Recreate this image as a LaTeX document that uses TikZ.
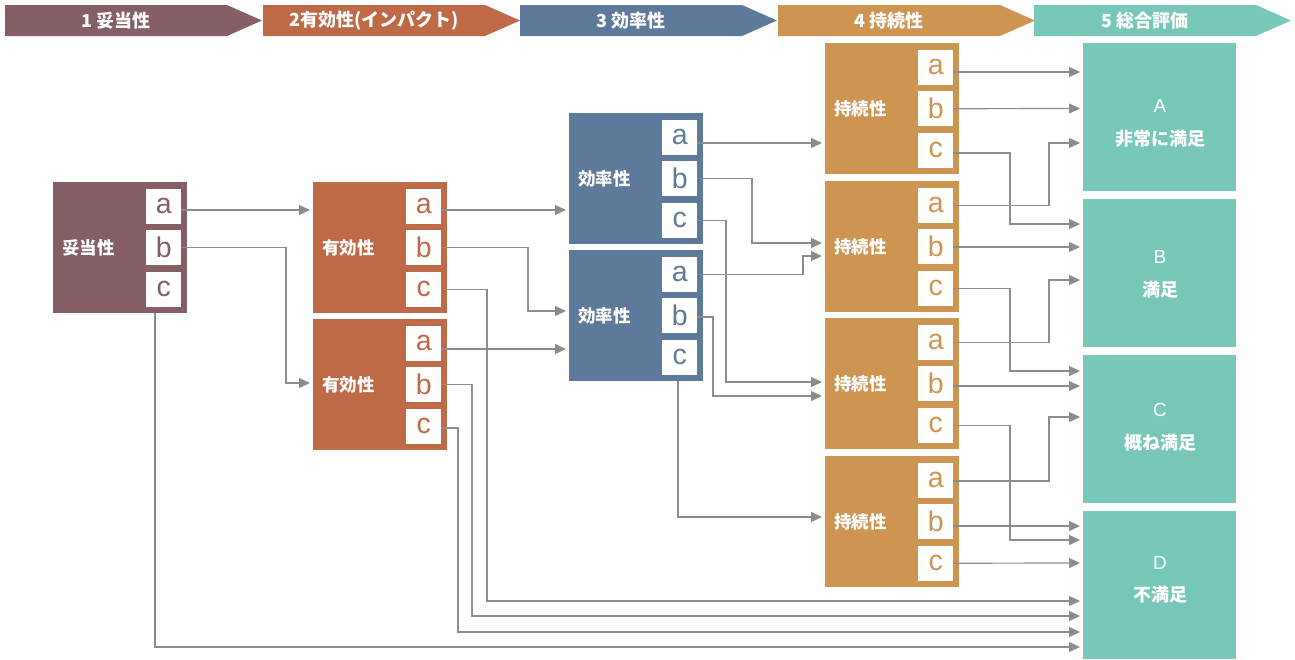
\documentclass[tikz,border=0pt]{standalone}
\usepackage{fontspec}
\setmainfont{Noto Sans CJK JP}
\newfontfamily\latf{Liberation Sans}
\usetikzlibrary{arrows.meta}
\definecolor{cS}{HTML}{855E66}
\definecolor{cE}{HTML}{BF6A47}
\definecolor{cF}{HTML}{5E7A9A}
\definecolor{cP}{HTML}{CD9452}
\definecolor{cT}{HTML}{77C8B9}
\definecolor{cL}{HTML}{8C8C8F}
\tikzset{
 box/.style={fill=#1, inner sep=0, minimum width=134pt, minimum height=131pt, anchor=north west},
 subbox/.style={fill=white, text=#1, inner sep=0, minimum width=35pt, minimum height=35pt, anchor=north east, font=\latf\fontsize{28.5}{29}\selectfont},
 lbl/.style={text=white, anchor=west, inner sep=0, font=\bfseries\fontsize{17.5}{18}\selectfont},
 tot/.style={fill=cT, inner sep=0, minimum width=153pt, minimum height=148pt, anchor=north west},
 conn/.style={draw=cL, line width=1.2pt, -{Triangle[length=11pt,width=10pt]}, shorten >=3pt},
 hdr/.style={text=white, inner sep=0, font=\bfseries\fontsize{18}{18}\selectfont},
 totl/.style={text=white, inner sep=0, font=\latf\fontsize{19}{19}\selectfont},
}
\newcommand\critbox[5]{%
 \node[box=#4] (#1) at (#2,#3) {};
 \node[lbl] (#1l) at ([xshift=9pt]#1.west) {#5};
 \node[subbox=#4] (#1a) at ([xshift=-6pt,yshift=-6.5pt]#1.north east) {a};
 \node[subbox=#4] (#1b) at ([xshift=-6pt,yshift=-48pt]#1.north east) {b};
 \node[subbox=#4] (#1c) at ([xshift=-6pt,yshift=-89.5pt]#1.north east) {c};
}
\newcommand\hdrarrow[4]{%
 \fill[#3] (#2,5) -- ++(222,0) -- ++(35,15.5) -- ++(-35,15.5) -- ++(-222,0) -- cycle;
 \node[hdr] (#1) at (#2+111,20.5) {#4};
}
\begin{document}
\begin{tikzpicture}[x=1pt,y=-1pt]
\useasboundingbox (0,0) rectangle (1295,659);
\fill[white] (0,0) rectangle (1295,659);
% header
\hdrarrow{H1}{5}{cS}{1 妥当性}
\hdrarrow{H2}{263}{cE}{2有効性(インパクト)}
\hdrarrow{H3}{520}{cF}{3 効率性}
\hdrarrow{H4}{778}{cP}{4 持続性}
\hdrarrow{H5}{1034}{cT}{5 総合評価}
% criteria boxes
\critbox{S}{53}{182}{cS}{妥当性}
\critbox{EA}{313}{182}{cE}{有効性}
\critbox{EB}{313}{319}{cE}{有効性}
\critbox{FA}{569}{113}{cF}{効率性}
\critbox{FB}{569}{250}{cF}{効率性}
\critbox{PA}{825}{43}{cP}{持続性}
\critbox{PB}{825}{181}{cP}{持続性}
\critbox{PC}{825}{318}{cP}{持続性}
\critbox{PD}{825}{456}{cP}{持続性}
% total evaluation
\node[tot] (TA) at (1083,43) {};
\node[tot] (TB) at (1083,199) {};
\node[tot] (TC) at (1083,355) {};
\node[tot] (TD) at (1083,511) {};
\node[totl] (TAl) at (1160,106) {A};
\node[hdr] (TAt) at (1160,139) {非常に満足};
\node[totl] (TBl) at (1160,257) {B};
\node[hdr] (TBt) at (1160,290) {満足};
\node[totl] (TCl) at (1160,410) {C};
\node[hdr] (TCt) at (1160,443) {概ね満足};
\node[totl] (TDl) at (1160,563) {D};
\node[hdr] (TDt) at (1160,595) {不満足};
% connectors: relevance
\draw[conn] (Sa.east |- 0,210) -- (EA.west |- 0,210);
\draw[conn] (Sb.east) -| (286,383) -- (EB.west |- 0,383);
\draw[conn] (155,0 |- S.south) |- (TD.west |- 0,647);
% effectiveness
\draw[conn] (EAa.east |- 0,210) -- (FA.west |- 0,210);
\draw[conn] (EAb.east) -| (528,311) -- (FB.west |- 0,311);
\draw[conn] (EAc.east) -| (487,601) -- (TD.west |- 0,601);
\draw[conn] (EBa.east |- 0,349) -- (FB.west |- 0,349);
\draw[conn] (EBb.east) -| (472,616) -- (TD.west |- 0,616);
\draw[conn] (EBc.east |- 0,428) -| (458,632) -- (TD.west |- 0,632);
% efficiency
\draw[conn] (FAa.east |- 0,143) -- (PA.west |- 0,143);
\draw[conn] (FAb.east) -| (752,243) -- (PB.west |- 0,243);
\draw[conn] (FAc.east) -| (726,382) -- (PC.west |- 0,382);
\draw[conn] (FBa.east) -| (803,256) -- (PB.west |- 0,256);
\draw[conn] (FBb.east |- 0,317) -| (713,396) -- (PC.west |- 0,396);
\draw[conn] (678,0 |- FB.south) |- (PD.west |- 0,517);
% sustainability
\draw[conn] (PAa.east |- 0,72) -- (TA.west |- 0,72);
\draw[conn] (PAb.east) -- (TA.west |- 0,108.5);
\draw[conn] (PAc.east |- 0,153) -| (1010,224) -- (TB.west |- 0,224);
\draw[conn] (PBa.east) -| (1049,143) -- (TA.west |- 0,143);
\draw[conn] (PBb.east |- 0,247) -- (TB.west |- 0,247);
\draw[conn] (PBc.east) -| (1010,371) -- (TC.west |- 0,371);
\draw[conn] (PCa.east) -| (1049,280) -- (TB.west |- 0,280);
\draw[conn] (PCb.east |- 0,386) -- (TC.west |- 0,386);
\draw[conn] (PCc.east) -| (1010,540) -- (TD.west |- 0,540);
\draw[conn] (PDa.east |- 0,481) -| (1049,417) -- (TC.west |- 0,417);
\draw[conn] (PDb.east |- 0,526) -- (TD.west |- 0,526);
\draw[conn] (PDc.east) -- (TD.west |- 0,563);
\end{tikzpicture}
\end{document}
